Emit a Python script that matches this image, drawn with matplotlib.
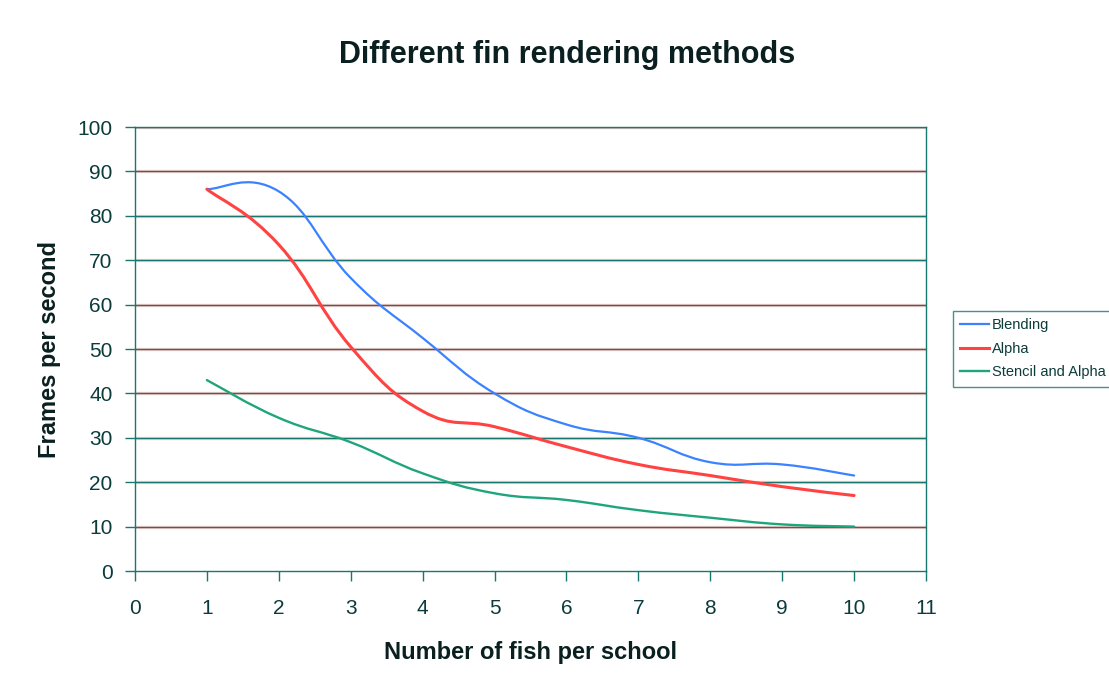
import numpy as np
import matplotlib
matplotlib.use('Agg')
import matplotlib.pyplot as plt
from matplotlib.path import Path
from matplotlib.patches import PathPatch
from matplotlib.lines import Line2D

plt.rcParams['font.family'] = ['Liberation Sans', 'DejaVu Sans']

# 每校鱼数 vs 帧率
fish = [1, 2, 3, 4, 5, 6, 7, 8, 9, 10]
blending = [86, 85.5, 66, 52.5, 40, 33, 30, 24.5, 24, 21.5]
alpha = [86, 73.5, 50.5, 36, 32.5, 28, 24, 21.5, 19, 17]
stencil = [43, 34.5, 29, 22, 17.5, 16, 13.7, 12, 10.5, 10]

series_names = ['Blending', 'Alpha', 'Stencil and Alpha']
series_colors = ['#3a82ff', '#ff4242', '#1fa57c']
series_widths = [1.6, 2.2, 1.7]

GRID = '#17786f'
FRINGE = '#ffcccc'
TEXT = '#0b3b3b'


def smooth_path(x, y, k=0.22):
    # 类似 Excel 的平滑线: 分段三次贝塞尔
    p = np.column_stack([x, y]).astype(float)
    n = len(p)
    verts = [p[0]]
    codes = [Path.MOVETO]
    for i in range(n - 1):
        p0 = p[i - 1] if i > 0 else p[i]
        p3 = p[i + 2] if i + 2 < n else p[i + 1]
        c1 = p[i] + (p[i + 1] - p0) * k
        c2 = p[i + 1] - (p3 - p[i]) * k
        verts += [c1, c2, p[i + 1]]
        codes += [Path.CURVE4] * 3
    return Path(verts, codes)


fig = plt.figure(figsize=(11.09, 6.84), dpi=100)
ax = fig.add_axes([0.1217, 0.1652, 0.835 - 0.1217, 0.8143 - 0.1652])

ax.set_xlim(0, 11)
ax.set_ylim(0, 100)

# 网格线(带淡红色边)
for yv in range(10, 101, 10):
    ax.axhline(yv, color=FRINGE, linewidth=2.4, zorder=1)
    ax.axhline(yv, color=GRID, linewidth=1.0, zorder=1.5)

for data, c, lw in zip([blending, alpha, stencil], series_colors, series_widths):
    patch = PathPatch(smooth_path(fish, data), facecolor='none', edgecolor=c,
                      linewidth=lw, capstyle='round', joinstyle='round', zorder=3)
    ax.add_patch(patch)

ax.set_xticks(range(0, 12))
ax.set_yticks(range(0, 101, 10))
ax.tick_params(axis='both', direction='out', length=7, width=1.0, color=GRID,
               labelcolor=TEXT, labelsize=15)
ax.tick_params(axis='x', pad=13)
ax.tick_params(axis='y', pad=9)
for s in ax.spines.values():
    s.set_color(GRID)
    s.set_linewidth(1.0)

ax.set_xlabel('Number of fish per school', fontsize=17, fontweight='bold',
              color='#0a1f1f', labelpad=17)
ax.set_ylabel('Frames per second', fontsize=17, fontweight='bold',
              color='#0a1f1f', labelpad=12)
fig.text(0.511, 0.919, 'Different fin rendering methods', ha='center', va='center',
         fontsize=22, fontweight='bold', color='#0a1f1f')

handles = [Line2D([], [], color=c, linewidth=lw) for c, lw in zip(series_colors, series_widths)]
leg = fig.legend(handles, series_names, loc='center left', bbox_to_anchor=(0.859, 0.49),
                 fontsize=10.5, frameon=True, fancybox=False, handlelength=2.0,
                 handletextpad=0.2, labelspacing=0.65, borderpad=0.5,
                 borderaxespad=0)
leg.get_frame().set_edgecolor(GRID)
leg.get_frame().set_linewidth(1.0)
for t in leg.get_texts():
    t.set_color(TEXT)

fig.savefig('out.png', dpi=100)
